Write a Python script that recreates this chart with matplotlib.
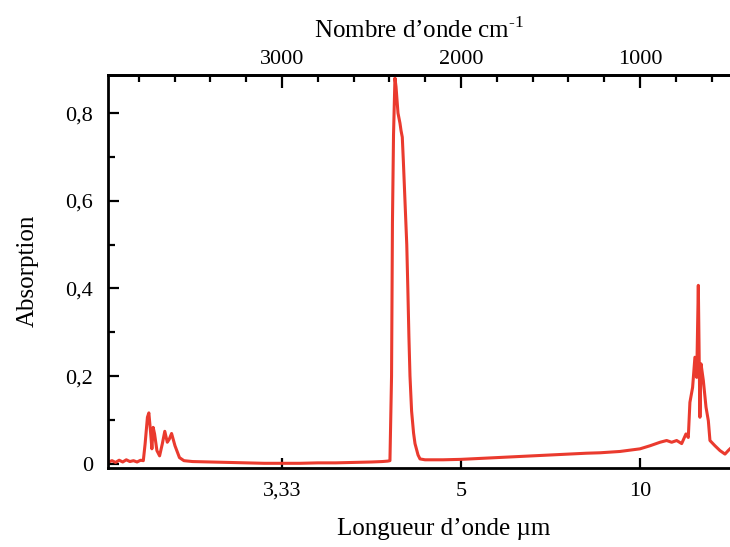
import matplotlib
matplotlib.use("Agg")
import matplotlib.pyplot as plt
import numpy as np
from matplotlib.ticker import MultipleLocator, FixedLocator

plt.rcParams["font.family"] = ["Liberation Serif", "DejaVu Serif"]
plt.rcParams["mathtext.fontset"] = "custom"
plt.rcParams["mathtext.rm"] = "Liberation Serif"

# spectrum: wavenumber (cm-1) and absorption
WAVENUMBER = [
    3968, 3950, 3930, 3910, 3890, 3870, 3850, 3830, 3810, 3790, 3775,
    3765, 3752, 3744, 3735, 3727, 3720, 3712, 3699, 3684, 3669, 3655,
    3641, 3630, 3617, 3598, 3573, 3548, 3500, 3400, 3300, 3200, 3100,
    3000, 2900, 2800, 2700, 2600, 2500, 2440, 2410, 2397,
    2388, 2383, 2377, 2369, 2363, 2352, 2341, 2335, 2328, 2322, 2313,
    2303, 2297, 2291, 2285, 2276, 2265, 2257, 2240, 2229, 2201, 2173,
    2100, 2000, 1900, 1800, 1700, 1600, 1500, 1400, 1300,
    1223, 1112, 1000, 944, 888, 851, 823, 795, 767, 743, 730, 721, 706,
    693, 683, 674, 669, 665, 659, 646, 631, 618, 609, 581, 553, 525,
    507, 497,
]
ABSORPTION = [
    0.004, 0.007, 0.003, 0.008, 0.004, 0.009, 0.005, 0.007, 0.004, 0.008, 0.007,
    0.045, 0.106, 0.116, 0.075, 0.034, 0.083, 0.068, 0.030, 0.018, 0.045, 0.074,
    0.049, 0.056, 0.069, 0.041, 0.014, 0.007, 0.005, 0.004, 0.003, 0.002, 0.001,
    0.001, 0.001, 0.002, 0.002, 0.003, 0.004, 0.005, 0.006, 0.007,
    0.20, 0.55, 0.75, 0.88, 0.86, 0.80, 0.777, 0.76, 0.745, 0.69, 0.60,
    0.50, 0.40, 0.29, 0.20, 0.12, 0.07, 0.046, 0.02, 0.011, 0.009, 0.009,
    0.009, 0.010, 0.012, 0.014, 0.016, 0.018, 0.020, 0.022, 0.024,
    0.025, 0.028, 0.034, 0.041, 0.049, 0.053, 0.049, 0.053, 0.046, 0.068, 0.060, 0.14, 0.174,
    0.243, 0.197, 0.407, 0.235, 0.106, 0.228, 0.19, 0.129, 0.098, 0.053, 0.041, 0.030, 0.022,
    0.030, 0.034,
]

TOP_TICKS = [3000, 2000, 1000]
BOTTOM_TICKS = [3000, 2000, 1000]
BOTTOM_LABELS = ["3,33", "5", "10"]
Y_TICKS = [0, 0.2, 0.4, 0.6, 0.8]
Y_LABELS = ["0", "0,2", "0,4", "0,6", "0,8"]

fig = plt.figure(figsize=(7.3, 5.47), dpi=100)
ax = fig.add_axes([0.1485, 0.145, 0.8515, 0.718])

ax.plot(WAVENUMBER, ABSORPTION, color="#ea3a2e", linewidth=2.2, solid_joinstyle="round")

ax.set_xlim(3970, 497)
ax.set_ylim(-0.009, 0.887)

for side in ["left", "top", "bottom"]:
    ax.spines[side].set_linewidth(2.0)
ax.spines["right"].set_visible(False)

ax.set_yticks(Y_TICKS)
ax.set_yticklabels(Y_LABELS)
ax.yaxis.set_minor_locator(MultipleLocator(0.1))
ax.tick_params(axis="y", which="major", direction="in", length=8, width=1.6, labelsize=16, pad=11)
ax.tick_params(axis="y", which="minor", direction="in", length=5, width=1.6)

ax.set_xticks(BOTTOM_TICKS)
ax.set_xticklabels(BOTTOM_LABELS)
ax.tick_params(axis="x", which="major", direction="in", length=7, width=1.6, labelsize=16, pad=10)

top = ax.secondary_xaxis("top")
top.set_xticks(TOP_TICKS)
top.xaxis.set_minor_locator(FixedLocator(np.arange(3800, 499, -200)))
top.tick_params(axis="x", which="major", direction="in", length=9, width=1.6, labelsize=16, pad=4)
top.tick_params(axis="x", which="minor", direction="in", length=5, width=1.6)
top.spines["top"].set_linewidth(2.0)
top.set_xlabel(r"Nombre d’onde cm$^{\text{-1}}$", fontsize=18, labelpad=9)

ax.set_xlabel("Longueur d’onde µm", fontsize=18, labelpad=14)
ax.xaxis.set_label_coords(0.54, -0.127)
ax.set_ylabel("Absorption", fontsize=18, labelpad=19)

fig.savefig("out.png", dpi=100)
